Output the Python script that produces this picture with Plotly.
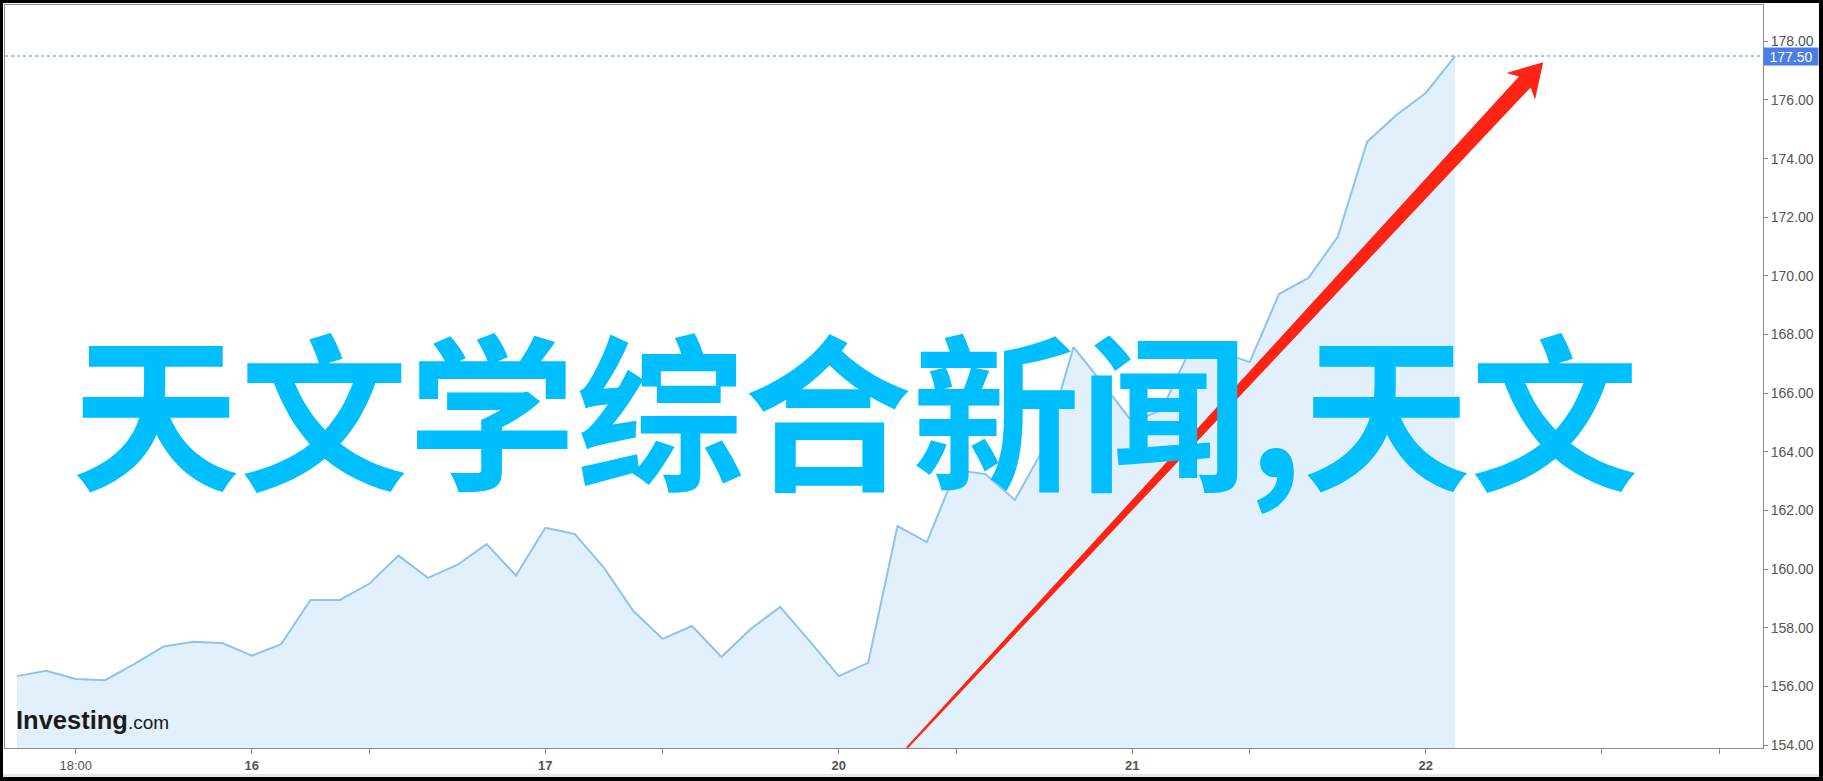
import math
import plotly.graph_objects as go

# ---------------- data ----------------
prices = [156.35, 156.53, 156.25, 156.21, 156.77, 157.36, 157.52, 157.48, 157.05, 157.44,
          158.95, 158.95, 159.50, 160.46, 159.70, 160.14, 160.85, 159.78, 161.41, 161.20,
          160.04, 158.57, 157.62, 158.06, 157.00, 157.96, 158.71, 157.55, 156.35, 156.80,
          161.47, 160.92, 163.38, 163.24, 162.36, 164.15, 167.57, 166.32, 165.02, 165.43,
          167.55, 167.40, 167.06, 169.38, 169.93, 171.33, 174.57, 175.49, 176.24, 177.50]
steps = list(range(len(prices)))

tick_positions = [2, 8, 12, 18, 22, 28, 32, 38, 42, 48, 54, 58]
tick_labels = ["18:00", "<b>16</b>", "", "<b>17</b>", "", "<b>20</b>", "",
               "<b>21</b>", "", "<b>22</b>", "", ""]
last_price = 177.50
title_text = "天文学综合新闻,天文"

# arrow endpoints in data units (x step, price)
arrow_start = (30.32, 153.90)
arrow_tip = (52.0, 177.29)

# ---------------- layout geometry ----------------
W, H = 1823, 781
L, R, T, B = 5, 60, 5, 33
PW, PH = W - L - R, H - T - B
X_RANGE = [-0.409, 59.49]
Y_RANGE = [153.898, 179.24]


def to_px(x, y):
    px = L + (x - X_RANGE[0]) / (X_RANGE[1] - X_RANGE[0]) * PW
    py = T + (Y_RANGE[1] - y) / (Y_RANGE[1] - Y_RANGE[0]) * PH
    return px, py


def to_data(px, py):
    x = X_RANGE[0] + (px - L) / PW * (X_RANGE[1] - X_RANGE[0])
    y = Y_RANGE[1] - (py - T) / PH * (Y_RANGE[1] - Y_RANGE[0])
    return x, y


fig = go.Figure()
fig.add_trace(go.Scatter(
    x=steps, y=prices, mode="lines", fill="tozeroy",
    fillcolor="#e1f0fa", line=dict(color="#90c2ee", width=2),
    hoverinfo="skip", showlegend=False))

# ---------------- red tapered arrow ----------------
sx, sy = to_px(*arrow_start)
tx, ty = to_px(*arrow_tip)
length = math.hypot(tx - sx, ty - sy)
dx, dy = (tx - sx) / length, (ty - sy) / length
nx, ny = -dy, dx
local = [(0, -1.0), (length - 27, -8.0), (length - 33, -19.5), (length, 0.0),
         (length - 33, 19.5), (length - 27, 8.0), (0, 1.0)]
pts = []
for u, v in local:
    px = sx + u * dx + v * nx
    py = sy + u * dy + v * ny
    pts.append(to_data(px, py))
path = "M " + " L ".join(f"{x:.4f},{y:.4f}" for x, y in pts) + " Z"

shapes = [
    dict(type="path", xref="x", yref="y", path=path, fillcolor="#ff2314",
         line=dict(width=0), layer="above"),
    dict(type="line", xref="paper", yref="y", x0=0, x1=1, y0=last_price, y1=last_price,
         line=dict(color="#5b84f0", width=1, dash="dot"), layer="above"),
]


def px_box(x0, y0, x1, y1, color):
    return dict(type="rect", xref="paper", yref="paper",
                x0=(x0 - L) / PW, x1=(x1 - L) / PW,
                y0=(H - B - y1) / PH, y1=(H - B - y0) / PH,
                fillcolor=color, line=dict(width=0), layer="above")


shapes += [
    px_box(0, 774, W, 777, "#e6e6e6"),
    px_box(0, 0, W, 3, "#000000"),
    px_box(0, 777, W, H, "#000000"),
    px_box(0, 0, 3, H, "#000000"),
    px_box(1819, 0, W, H, "#000000"),
]

annotations = [
    dict(text=title_text, xref="paper", yref="paper", x=(855 - L) / PW, y=(748 - 405) / PH,
         xanchor="center", yanchor="middle", showarrow=False,
         font=dict(family="Noto Sans CJK SC", size=168, color="#00bfff", weight="bold")),
    dict(text=f"{last_price:.2f}", xref="paper", yref="y", x=1, y=last_price,
         xanchor="left", yanchor="middle", showarrow=False, bgcolor="#4a7ee6",
         borderpad=1, width=52, height=15, align="center",
         font=dict(family="Liberation Sans, Arial", size=14, color="#ffffff")),
    dict(text="<b>Investing</b><span style='font-size:19px'>.com</span>",
         xref="paper", yref="paper", x=(15 - L) / PW, y=(748 - 735) / PH,
         xanchor="left", yanchor="bottom", showarrow=False, borderpad=0,
         font=dict(family="Liberation Sans, Arial", size=25.5, color="#1b1b1b")),
]

fig.update_layout(
    width=W, height=H,
    margin=dict(l=L, r=R, t=T, b=B, pad=0),
    paper_bgcolor="#ffffff", plot_bgcolor="#ffffff",
    shapes=shapes, annotations=annotations,
    xaxis=dict(range=X_RANGE, tickmode="array", tickvals=tick_positions, ticktext=tick_labels,
               ticks="outside", ticklen=5, tickcolor="#888888", showgrid=False, zeroline=False,
               showline=True, linecolor="#8a8a8a", linewidth=1, mirror=True,
               tickfont=dict(family="Liberation Sans, Arial", size=13, color="#555555")),
    yaxis=dict(range=Y_RANGE, side="right", tick0=154, dtick=2, tickformat=".2f",
               ticks="outside", ticklen=4, tickcolor="#888888", showgrid=False, zeroline=False,
               showline=True, linecolor="#8a8a8a", linewidth=1, mirror=True,
               tickfont=dict(family="Liberation Sans, Arial", size=14, color="#555555")),
)

fig.write_html("out.html", config={"displayModeBar": False},
               post_script="document.body.style.margin='0px';")
